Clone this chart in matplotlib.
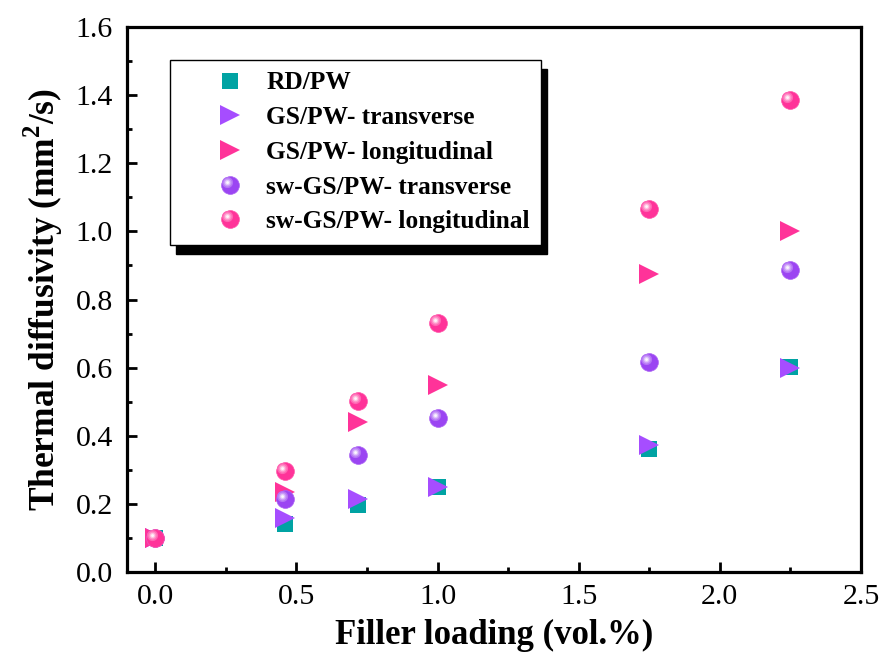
import numpy as np
import matplotlib
matplotlib.use("Agg")
import matplotlib.pyplot as plt
from matplotlib.path import Path
from matplotlib.lines import Line2D
from matplotlib.legend_handler import HandlerTuple
from matplotlib.ticker import MultipleLocator, FormatStrFormatter
from matplotlib.colors import to_rgb

# ---- data ----
x_loading = [0.0, 0.46, 0.72, 1.0, 1.75, 2.25]
rd_pw = [0.10, 0.141, 0.197, 0.249, 0.361, 0.603]
gs_trans = [0.10, 0.159, 0.213, 0.250, 0.373, 0.598]
gs_long = [0.10, 0.236, 0.441, 0.549, 0.874, 1.002]
sw_trans = [0.10, 0.214, 0.343, 0.451, 0.617, 0.887]
sw_long = [0.10, 0.297, 0.502, 0.730, 1.065, 1.386]

labels = ["RD/PW", "GS/PW- transverse", "GS/PW- longitudinal",
          "sw-GS/PW- transverse", "sw-GS/PW- longitudinal"]

TEAL = "#00A3A3"
PURPLE = "#A64DFF"
PINK = "#FF3399"
SPH_PURPLE = "#9B45F2"
SPH_PINK = "#FF3399"

plt.rcParams['font.family'] = ['Liberation Serif', 'DejaVu Serif']
plt.rcParams['mathtext.fontset'] = 'custom'
plt.rcParams['mathtext.rm'] = 'Liberation Serif'
plt.rcParams['mathtext.bf'] = 'Liberation Serif:bold'

fig = plt.figure(figsize=(8.83, 6.64), dpi=100)
ax = fig.add_axes([127/883, 1-572/664, (861-127)/883, (572-27)/664])


def circle_path(cx, cy, r, n=64):
    t = np.linspace(0, 2*np.pi, n)
    verts = np.column_stack([cx + r*np.cos(t), cy + r*np.sin(t)])
    return Path(verts, closed=True)


def blend(c, f):
    c = np.array(to_rgb(c))
    return tuple(c + (1 - c) * f)


def sphere_lines(x, y, color, ms):
    """Return list of Line2D layers that imitate a shaded sphere."""
    arts = []
    base = Line2D(x, y, ls='none', marker='o', ms=ms, mfc=color,
                  mec=blend(color, 0.15), mew=0.5, zorder=5)
    arts.append(base)
    layers = [(0.62, 0.25), (0.45, 0.45), (0.30, 0.7), (0.16, 0.95)]
    cx, cy = -0.33, 0.33
    for r, f in layers:
        R = max(abs(cx) + r, abs(cy) + r)
        p = circle_path(cx, cy, r)
        ln = Line2D(x, y, ls='none', marker=p, ms=ms*R,
                    mfc=blend(color, f), mec='none', zorder=5.1)
        arts.append(ln)
    return arts


ms_sq = 11.5
ms_tri = 14
ms_sph = 12.8

h_rd, = ax.plot(x_loading, rd_pw, ls='none', marker='s', ms=ms_sq,
                mfc=TEAL, mec=TEAL, mew=0, zorder=3)
h_gt, = ax.plot(x_loading, gs_trans, ls='none', marker='>', ms=ms_tri,
                mfc=PURPLE, mec=PURPLE, mew=0, zorder=3.5)
h_gl, = ax.plot(x_loading, gs_long, ls='none', marker='>', ms=ms_tri,
                mfc=PINK, mec=PINK, mew=0, zorder=3.5)

sph_t = sphere_lines(x_loading, sw_trans, SPH_PURPLE, ms_sph)
for a in sph_t:
    ax.add_line(a)
sph_l = sphere_lines(x_loading, sw_long, SPH_PINK, ms_sph)
for a in sph_l:
    a.set_zorder(a.get_zorder() + 0.5)
    ax.add_line(a)

ax.set_xlim(-0.1, 2.5)
ax.set_ylim(0.0, 1.6)
ax.xaxis.set_major_locator(MultipleLocator(0.5))
ax.xaxis.set_minor_locator(MultipleLocator(0.25))
ax.yaxis.set_major_locator(MultipleLocator(0.2))
ax.yaxis.set_minor_locator(MultipleLocator(0.1))
ax.xaxis.set_major_formatter(FormatStrFormatter('%.1f'))
ax.yaxis.set_major_formatter(FormatStrFormatter('%.1f'))

for s in ax.spines.values():
    s.set_linewidth(2.3)
ax.tick_params(which='both', direction='in', top=False, right=False,
               labelsize=21.5, width=2.0)
ax.tick_params(which='major', length=7)
ax.tick_params(which='minor', length=3.5)
ax.tick_params(axis='x', pad=9)
ax.tick_params(axis='y', pad=10)

ax.set_xlabel("Filler loading (vol.%)", fontsize=25, fontweight='bold',
              labelpad=6)
ax.set_ylabel(r"Thermal diffusivity (mm$^\mathbf{2}$/s)", fontsize=25.5,
              fontweight='bold', labelpad=8)

leg = ax.legend([h_rd, h_gt, h_gl, tuple(sph_t), tuple(sph_l)], labels,
                handler_map={tuple: HandlerTuple(ndivide=1, pad=0)},
                loc='upper left', bbox_to_anchor=(0.0586, 0.9394),
                borderaxespad=0, numpoints=1, frameon=True, fancybox=False,
                edgecolor='black', framealpha=1,
                prop={'family': 'Liberation Serif', 'weight': 'bold',
                      'size': 18.3},
                handlelength=3.83, handletextpad=-0.5, borderpad=0.45,
                labelspacing=0.46,
                shadow={'ox': 4.5, 'oy': -6.5, 'facecolor': 'black',
                        'edgecolor': 'black', 'alpha': 1})
leg.get_frame().set_linewidth(1.0)

fig.savefig("out.png", dpi=100)
